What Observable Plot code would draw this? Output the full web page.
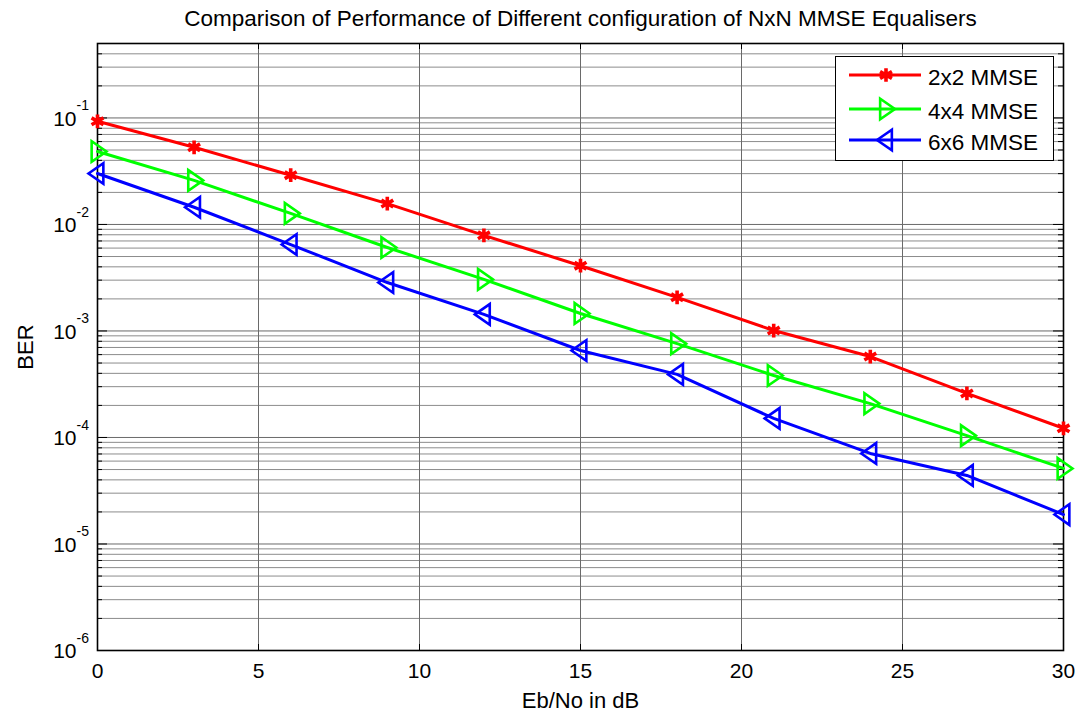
<!DOCTYPE html>
<html>
<head>
<meta charset="utf-8">
<script src="https://cdn.jsdelivr.net/npm/d3@7"></script>
<script src="https://cdn.jsdelivr.net/npm/@observablehq/plot@0.6"></script>
<style>
  html, body { margin: 0; padding: 0; background: #fff; }
  #chart { width: 1080px; height: 716px; }
  svg { font-family: "Liberation Sans", Arial, sans-serif; }
</style>
</head>
<body>
<div id="chart"></div>
<script>
// ---- data ----
const snr = [0, 3, 6, 9, 12, 15, 18, 21, 24, 27, 30];
const ber2x2 = [0.093, 0.053, 0.029, 0.0157, 0.0079, 0.0041, 0.00207, 0.00101, 0.000575, 0.000259, 0.000122];
const ber4x4 = [0.0484, 0.0259, 0.0127, 0.00608, 0.00305, 0.00146, 0.00076, 0.000382, 0.000208, 0.000104, 0.0000512];
const ber6x6 = [0.0301, 0.0145, 0.00648, 0.00285, 0.00143, 0.000656, 0.000391, 0.000151, 0.0000708, 0.000044, 0.0000189];
const seriesNames = ["2x2 MMSE", "4x4 MMSE", "6x6 MMSE"];
const seriesColors = ["#ff0000", "#00ff00", "#0000ff"];
const xTicks = [0, 5, 10, 15, 20, 25, 30];
const yDecades = [1e-6, 1e-5, 1e-4, 1e-3, 1e-2, 1e-1];
const yMinorMultipliers = [2, 3, 4, 5, 6, 7, 8, 9];
const titleText = "Comparison of Performance of Different configuration of NxN MMSE Equalisers";
const xLabel = "Eb/No in dB";
const yLabel = "BER";
const yMax = 0.5;

// ---- build tables ----
const seriesValues = [ber2x2, ber4x4, ber6x6];
const rows = [];
seriesNames.forEach((name, k) => snr.forEach((x, i) => rows.push({series: name, x, y: seriesValues[k][i]})));
const yMinor = [];
yDecades.forEach(d => yMinorMultipliers.forEach(m => { const v = d * m; if (v <= yMax * 1.0001) yMinor.push(v); }));

// ---- custom marker symbols ----
const triRight = {draw(ctx, size) {
  const r = Math.sqrt(size / Math.PI);
  ctx.moveTo(r * 1.0, 0); ctx.lineTo(-r * 0.65, -r * 1.15); ctx.lineTo(-r * 0.65, r * 1.15); ctx.closePath();
}};
const triLeft = {draw(ctx, size) {
  const r = Math.sqrt(size / Math.PI);
  ctx.moveTo(-r * 1.0, 0); ctx.lineTo(r * 0.65, -r * 1.15); ctx.lineTo(r * 0.65, r * 1.15); ctx.closePath();
}};
const symbols = ["asterisk", triRight, triLeft];
const markerR = [6.5, 9, 9];
const markerW = [3.6, 2.6, 2.6];

const W = 1080, H = 716;
const mL = 97, mR = 17, mT = 43, mB = 66;
const fw = W - mL - mR, fh = H - mT - mB;
const tickFont = 21, labelFont = 22;

const marks = [
  // grid
  Plot.ruleY(yMinor, {y: d => d, stroke: "#8c8c8c", strokeWidth: 1}),
  Plot.ruleY(yDecades, {y: d => d, stroke: "#6a6a6a", strokeWidth: 1}),
  Plot.ruleX(xTicks.slice(1, -1), {x: d => d, stroke: "#6a6a6a", strokeWidth: 1}),
  // inward ticks
  Plot.tickY(yMinor, {y: d => d, insetRight: fw - 5, stroke: "#000"}),
  Plot.tickY(yMinor, {y: d => d, insetLeft: fw - 5, stroke: "#000"}),
  Plot.tickY(yDecades, {y: d => d, insetRight: fw - 10, stroke: "#000"}),
  Plot.tickY(yDecades, {y: d => d, insetLeft: fw - 10, stroke: "#000"}),
  Plot.tickX(xTicks, {x: d => d, insetTop: fh - 6, stroke: "#000"}),
  Plot.tickX(xTicks, {x: d => d, insetBottom: fh - 6, stroke: "#000"}),
  // frame
  Plot.frame({stroke: "#000", strokeWidth: 1.6}),
];
seriesNames.forEach((name, k) => {
  const d = rows.filter(r => r.series === name);
  marks.push(Plot.line(d, {x: "x", y: "y", stroke: seriesColors[k], strokeWidth: 3}));
});
seriesNames.forEach((name, k) => {
  const d = rows.filter(r => r.series === name);
  marks.push(Plot.dot(d, {x: "x", y: "y", stroke: seriesColors[k], fill: "none",
    symbol: () => symbols[k], r: markerR[k], strokeWidth: markerW[k]}));
});
// tick labels and titles
marks.push(
  Plot.text(xTicks, {x: d => d, frameAnchor: "bottom", lineAnchor: "middle", dy: 21, text: d => String(d), fontSize: tickFont, fill: "#000"}),
  Plot.text(yDecades, {y: d => d, frameAnchor: "left", lineAnchor: "middle", dx: -21, dy: 1, text: () => "10", textAnchor: "end", fontSize: tickFont, fill: "#000"}),
  Plot.text(yDecades, {y: d => d, frameAnchor: "left", lineAnchor: "middle", dx: -21, dy: -12, text: d => String(Math.round(Math.log10(d))), textAnchor: "start", fontSize: 14, fill: "#000"}),
  Plot.text([titleText], {frameAnchor: "top", lineAnchor: "middle", textAnchor: "middle", dy: -25, text: d => d, fontSize: 22.5, fill: "#000"}),
  Plot.text([xLabel], {frameAnchor: "bottom", lineAnchor: "middle", textAnchor: "middle", dy: 50, text: d => d, fontSize: labelFont, fill: "#000"}),
  Plot.text([yLabel], {frameAnchor: "left", lineAnchor: "middle", textAnchor: "middle", dx: -72, rotate: -90, text: d => d, fontSize: labelFont, fill: "#000"})
);

const chart = Plot.plot({
  width: W, height: H,
  marginLeft: mL, marginRight: mR, marginTop: mT, marginBottom: mB,
  style: {background: "#fff", fontFamily: "Liberation Sans, Arial, sans-serif", overflow: "visible"},
  x: {domain: [0, 30], axis: null},
  y: {type: "log", domain: [1e-6, yMax], axis: null},
  marks
});
document.getElementById("chart").appendChild(chart);

// ---- legend ----
const svg = d3.select(chart);
const lg = svg.append("g").attr("class", "legend");
lg.append("rect").attr("x", 835.5).attr("y", 56.5).attr("width", 218).attr("height", 104)
  .attr("fill", "#fff").attr("stroke", "#000").attr("stroke-width", 1);
const rowY = [75, 109, 140];
seriesNames.forEach((name, k) => {
  const y = rowY[k];
  lg.append("line").attr("x1", 849).attr("x2", 921).attr("y1", y).attr("y2", y)
    .attr("stroke", seriesColors[k]).attr("stroke-width", 3);
  const symType = k === 0 ? d3.symbolAsterisk : symbols[k];
  const r = markerR[k];
  lg.append("path").attr("d", d3.symbol(symType, Math.PI * r * r)())
    .attr("transform", `translate(886,${y})`)
    .attr("fill", "none").attr("stroke", seriesColors[k]).attr("stroke-width", markerW[k]);
  lg.append("text").attr("x", 928).attr("y", y + 2).attr("dy", "0.35em")
    .attr("text-anchor", "start")
    .attr("font-size", 22.5).attr("fill", "#000").text(name);
});
</script>
</body>
</html>
